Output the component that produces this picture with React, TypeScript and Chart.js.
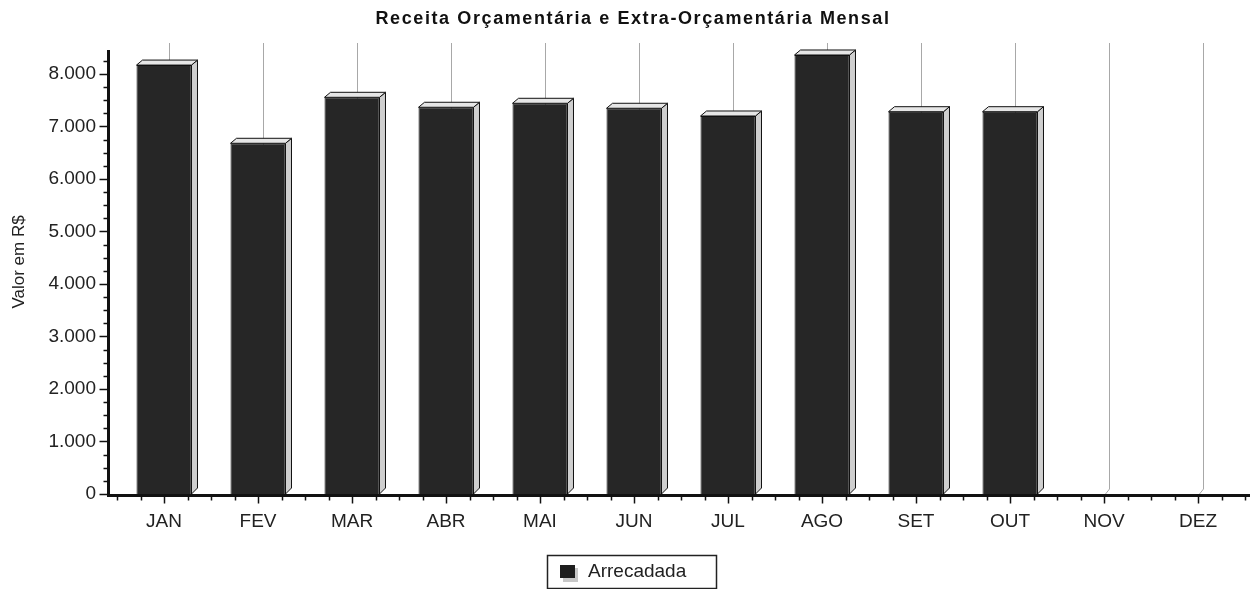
import React, { useEffect, useRef } from "react";
import { Chart, registerables } from "chart.js";

Chart.register(...registerables);

const categories = ["JAN", "FEV", "MAR", "ABR", "MAI", "JUN", "JUL", "AGO", "SET", "OUT", "NOV", "DEZ"];
const arrecadada = [8170, 6680, 7556, 7366, 7442, 7347, 7200, 8362, 7282, 7282, 0, 0];
const yMajorTicks = [0, 1000, 2000, 3000, 4000, 5000, 6000, 7000, 8000];
const titleText = "Receita Orçamentária e Extra-Orçamentária Mensal";
const yTitleText = "Valor em R$";
const legendText = "Arrecadada";

const FONT = "'Liberation Sans', Arial, sans-serif";
const DEPTH = 6;

const fmt = (v: number) => v.toLocaleString("pt-BR");

const decorPlugin = {
  id: "decor",
  beforeDatasetsDraw(chart: any) {
    const { ctx, chartArea } = chart;
    const xs = chart.scales.x;
    ctx.save();
    ctx.strokeStyle = "#a8a8a8";
    ctx.lineWidth = 1;
    for (let i = 0; i < categories.length; i++) {
      const cx = Math.round(xs.getPixelForValue(i)) + 5.5;
      ctx.beginPath();
      ctx.moveTo(cx, chartArea.top - 7);
      ctx.lineTo(cx, chartArea.bottom - 5);
      ctx.lineTo(cx - 4, chartArea.bottom);
      ctx.stroke();
    }
    ctx.restore();
  },
  afterDatasetsDraw(chart: any) {
    const { ctx } = chart;
    const meta = chart.getDatasetMeta(0);
    ctx.save();
    ctx.lineWidth = 1;
    ctx.strokeStyle = "#111";
    meta.data.forEach((bar: any, i: number) => {
      if (!arrecadada[i]) return;
      const { x, y, base, width } = bar.getProps(["x", "y", "base", "width"], true);
      const l = x - width / 2;
      const r = x + width / 2;
      // side
      ctx.fillStyle = "#cfcfcf";
      ctx.beginPath();
      ctx.moveTo(r, y);
      ctx.lineTo(r + DEPTH, y - DEPTH + 1);
      ctx.lineTo(r + DEPTH, base - DEPTH);
      ctx.lineTo(r, base);
      ctx.closePath();
      ctx.fill();
      ctx.stroke();
      // top
      ctx.fillStyle = "#e6e6e6";
      ctx.beginPath();
      ctx.moveTo(l, y);
      ctx.lineTo(l + DEPTH, y - DEPTH + 1);
      ctx.lineTo(r + DEPTH, y - DEPTH + 1);
      ctx.lineTo(r, y);
      ctx.closePath();
      ctx.fill();
      ctx.stroke();
    });
    ctx.restore();
  },
  afterDraw(chart: any) {
    const { ctx, chartArea } = chart;
    const xs = chart.scales.x;
    const ys = chart.scales.y;
    ctx.save();
    // title
    ctx.fillStyle = "#111";
    ctx.font = `bold 18px ${FONT}`;
    (ctx as any).letterSpacing = "1.6px";
    ctx.textAlign = "center";
    ctx.textBaseline = "middle";
    ctx.fillText(titleText, 633, 19);
    (ctx as any).letterSpacing = "0px";
    // y title
    ctx.save();
    ctx.translate(19, 262);
    ctx.rotate(-Math.PI / 2);
    ctx.font = `17px ${FONT}`;
    ctx.fillStyle = "#222";
    ctx.fillText(yTitleText, 0, 0);
    ctx.restore();
    // y axis
    const axX = 108.5;
    ctx.strokeStyle = "#111";
    ctx.lineWidth = 3;
    ctx.beginPath();
    ctx.moveTo(axX, chartArea.top);
    ctx.lineTo(axX, chartArea.bottom + 3);
    ctx.stroke();
    ctx.lineWidth = 1.5;
    for (let v = 0; v <= ys.max; v += 250) {
      const py = Math.round(ys.getPixelForValue(v)) + 0.5;
      const major = v % 1000 === 0;
      ctx.beginPath();
      ctx.moveTo(axX - (major ? 9 : 5), py);
      ctx.lineTo(axX, py);
      ctx.stroke();
    }
    // x axis
    const axY = chartArea.bottom + 1.5;
    ctx.lineWidth = 3;
    ctx.beginPath();
    ctx.moveTo(107, axY);
    ctx.lineTo(1250, axY);
    ctx.stroke();
    ctx.lineWidth = 1.5;
    const step = xs.getPixelForValue(1) - xs.getPixelForValue(0);
    for (let i = 0; i < categories.length; i++) {
      const c = xs.getPixelForValue(i);
      for (let q = -2; q <= 1; q++) {
        const px = Math.round(c + (q * step) / 4) + 0.5;
        ctx.beginPath();
        ctx.moveTo(px, axY + 1);
        ctx.lineTo(px, axY + (q === 0 ? 8 : 5));
        ctx.stroke();
      }
    }
    const lastPx = Math.round(xs.getPixelForValue(categories.length - 1) + step / 2) + 0.5;
    ctx.beginPath();
    ctx.moveTo(lastPx, axY + 1);
    ctx.lineTo(lastPx, axY + 5);
    ctx.stroke();
    // legend
    ctx.lineWidth = 1.5;
    ctx.strokeStyle = "#222";
    ctx.strokeRect(547.5, 555.5, 169, 33);
    ctx.fillStyle = "#c8c8c8";
    ctx.fillRect(563, 568, 15, 14);
    ctx.fillStyle = "#1e1e1e";
    ctx.fillRect(560, 565, 15, 13);
    ctx.fillStyle = "#222";
    ctx.font = `19px ${FONT}`;
    ctx.textAlign = "left";
    ctx.textBaseline = "middle";
    ctx.fillText(legendText, 588, 572);
    ctx.restore();
  },
};

export default function App() {
  const ref = useRef<HTMLCanvasElement | null>(null);
  useEffect(() => {
    document.body.style.margin = "0";
    const canvas = ref.current;
    if (!canvas) return;
    const chart = new Chart(canvas, {
      type: "bar",
      data: {
        labels: categories,
        datasets: [
          {
            label: legendText,
            data: arrecadada,
            backgroundColor: "#262626",
            borderColor: "#111",
            borderWidth: 1,
            barPercentage: 0.585,
            categoryPercentage: 1,
          },
        ],
      },
      options: {
        animation: false,
        responsive: false,
        layout: { padding: { top: 50, right: 9, left: 0, bottom: 0 } },
        plugins: {
          legend: { display: false },
          title: { display: false },
          tooltip: { enabled: false },
        },
        scales: {
          x: {
            grid: { display: false, drawTicks: false },
            border: { display: false },
            ticks: {
              font: { family: FONT, size: 19 },
              color: "#222",
              padding: 16,
              maxRotation: 0,
            },
            afterFit(scale: any) {
              scale.height = 95;
            },
          },
          y: {
            min: 0,
            max: 8457,
            grid: { display: false, drawTicks: false },
            border: { display: false },
            ticks: {
              stepSize: 1000,
              font: { family: FONT, size: 19 },
              color: "#222",
              padding: 21,
              callback: (v: any) => fmt(Number(v)),
            },
            afterBuildTicks(scale: any) {
              scale.ticks = yMajorTicks.map((v) => ({ value: v }));
            },
            afterFit(scale: any) {
              scale.width = 117;
            },
          },
        },
      },
      plugins: [decorPlugin],
    });
    return () => chart.destroy();
  }, []);
  return (
    <div style={{ width: 1254, height: 589, background: "#fff" }}>
      <canvas ref={ref} width={1254} height={589} />
    </div>
  );
}
